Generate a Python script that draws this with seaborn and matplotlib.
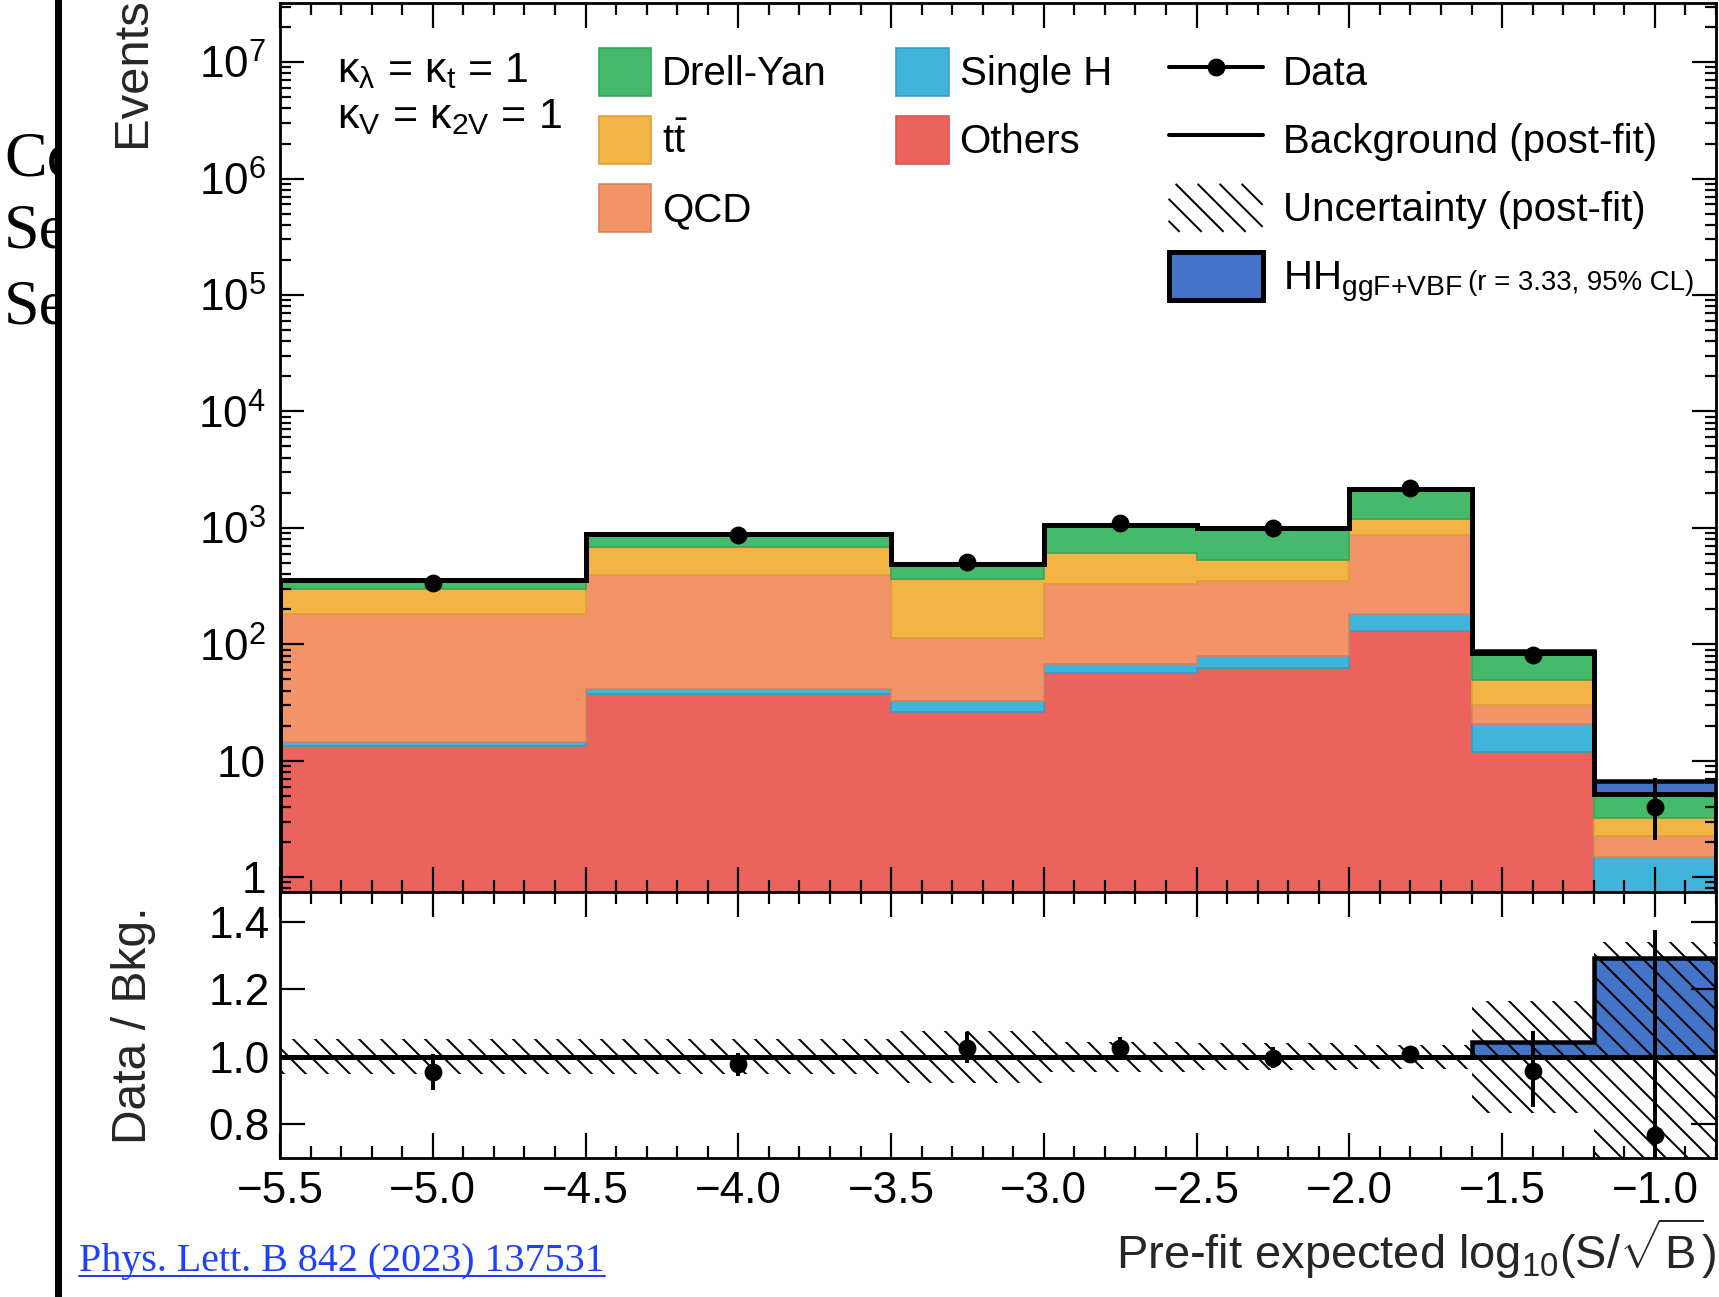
import numpy as np
import pandas as pd
import matplotlib
matplotlib.use("Agg")
import matplotlib.pyplot as plt
import seaborn as sns
from matplotlib.lines import Line2D
from matplotlib.patches import Patch
from matplotlib.collections import LineCollection
from matplotlib.legend_handler import HandlerBase
from matplotlib.colors import to_rgba
from matplotlib.ticker import (LogLocator, FixedLocator, FuncFormatter,
                               MultipleLocator, NullLocator, NullFormatter)
from matplotlib.transforms import Bbox, TransformedBbox

# ---------------------------------------------------------------- data
# Bin edges in pre-fit expected log10(S/sqrt(B))
bin_edges = [-5.5, -4.5, -3.5, -3.0, -2.5, -2.0, -1.6, -1.2, -0.8]

# Post-fit background yields per bin
others = [13.4, 37.3, 26.0, 56.4, 62.7, 131.0, 11.8, 0.0]
single_h = [1.1, 3.6, 6.3, 11.4, 16.2, 51.0, 8.8, 1.48]
qcd = [166.5, 352.0, 81.7, 261.0, 272.0, 689.0, 9.3, 0.77]
ttbar = [119.0, 294.0, 247.0, 274.0, 181.0, 316.0, 19.2, 0.94]
drell_yan = [54.0, 202.0, 130.0, 458.0, 474.0, 987.0, 35.4, 2.01]

# HH signal scaled to the 95% CL upper limit (r = 3.33)
hh_signal = [0.0, 0.0, 0.0, 0.0, 0.0, 0.0, 3.8, 1.53]

# Observed events with Poisson intervals
data_counts = [338, 869, 504, 1090, 1003, 2190, 81, 4]
data_err_lo = [18.4, 29.5, 22.4, 33.0, 31.7, 46.8, 9.0, 1.93]
data_err_hi = [19.4, 30.5, 23.4, 34.0, 32.7, 47.8, 10.0, 3.16]

# Relative post-fit background uncertainty
bkg_rel_unc = [0.052, 0.052, 0.078, 0.045, 0.040, 0.035, 0.167, 0.340]

process_names = ["Drell-Yan", r"$\mathregular{t\bar{t}}$", "QCD", "Single H", "Others"]
process_yields = [drell_yan, ttbar, qcd, single_h, others]
fill_colors = ["#45BA6A", "#F3B443", "#F29467", "#41B4DB", "#EC635E"]
edge_colors = ["#3AA35C", "#DDA03A", "#DC8159", "#379FC4", "#D5534F"]
HH_COLOR = "#4474C8"
LINK_COLOR = "#1F3FFF"

# ---------------------------------------------------------------- style
DPI = 132
W, H = 1719, 1297
HATCH_STEP = 22.0   # pixels between hatch lines
HATCH_LW = 2.0      # pixels


def pt(pixels):
    """Convert a size in output pixels to points."""
    return pixels * 72.0 / DPI


class HatchHandler(HandlerBase):
    """Legend key drawn as diagonal hatch lines."""

    def create_artists(self, legend, orig_handle, xdescent, ydescent,
                       width, height, fontsize, trans):
        x0, y0 = -xdescent, -ydescent
        step = pt(HATCH_STEP)
        segs = []
        c = 0.5 * step
        while c < width + height:
            xa, xb = max(0.0, c - height), min(width, c)
            if xb > xa:
                segs.append([(x0 + xa, y0 + c - xa), (x0 + xb, y0 + c - xb)])
            c += step
        lc = LineCollection(segs, colors="black", linewidths=pt(HATCH_LW),
                            transform=trans)
        return [lc]


sns.set_theme(style="ticks")
plt.rcParams["font.family"] = ["Liberation Sans", "DejaVu Sans"]
plt.rcParams["mathtext.fontset"] = "custom"
plt.rcParams["mathtext.rm"] = "Liberation Sans"
plt.rcParams["mathtext.it"] = "Liberation Sans:italic"
plt.rcParams["mathtext.bf"] = "Liberation Sans:bold"
plt.rcParams["axes.unicode_minus"] = True
plt.rcParams["text.color"] = "black"

fig = plt.figure(figsize=(W / DPI, H / DPI), dpi=DPI)
fig.patch.set_facecolor("white")

left_px, right_px = 280.0, 1716.0
top_px, mid_px, bot_px = 3.3, 891.7, 1158.0
left, right = left_px / W, right_px / W
top, mid, bot = 1 - top_px / H, 1 - mid_px / H, 1 - bot_px / H
ax = fig.add_axes([left, mid, right - left, top - mid])
axr = fig.add_axes([left, bot, right - left, mid - bot], sharex=ax)

edges = np.array(bin_edges)
centers = 0.5 * (edges[:-1] + edges[1:])
total = np.sum(np.array(process_yields), axis=0)
hh = np.array(hh_signal)
data = np.array(data_counts, dtype=float)
err_lo = np.array(data_err_lo)
err_hi = np.array(data_err_hi)
rel = np.array(bkg_rel_unc)

# ---------------------------------------------------------------- main panel
ax.set_yscale("log")
df = pd.DataFrame({
    "x": np.tile(centers, len(process_names)),
    "w": np.concatenate(process_yields),
    "process": np.repeat(process_names, len(centers)),
})
palette = dict(zip(process_names, fill_colors))
sns.histplot(data=df, x="x", weights="w", hue="process", hue_order=process_names,
             palette=palette, multiple="stack", element="step", fill=True,
             bins=bin_edges, alpha=1, linewidth=pt(1.6), legend=False, ax=ax)

# darker outline for each stacked process
fc_to_ec = {tuple(np.round(to_rgba(f), 3)): e for f, e in zip(fill_colors, edge_colors)}
for coll in ax.collections:
    fcs = coll.get_facecolor()
    if len(fcs):
        key = tuple(np.round(fcs[0], 3))
        if key in fc_to_ec:
            coll.set_edgecolor(fc_to_ec[key])
            coll.set_linewidth(pt(1.6))

ax.stairs(total + hh, edges, baseline=total, fill=True, facecolor=HH_COLOR,
          edgecolor="black", linewidth=pt(4.5), zorder=3)
ax.stairs(total, edges, color="black", linewidth=pt(5), zorder=4)
ax.errorbar(centers, data, yerr=[err_lo, err_hi], fmt="o", color="black",
            ms=pt(16), elinewidth=pt(4), capsize=0, zorder=6)

ax.set_xlim(-5.5, -0.8)
ax.set_ylim(0.75, 3.2e7)
ax.set_xlabel("")

# ---------------------------------------------------------------- ratio panel
unc_dn = np.append(1 - rel, 1 - rel[-1])
unc_up = np.append(1 + rel, 1 + rel[-1])
axr.stairs(1 + hh / total, edges, baseline=1.0, fill=True, facecolor=HH_COLOR,
           edgecolor="black", linewidth=pt(4.5), zorder=2)
band = axr.fill_between(edges, unc_dn, unc_up, step="post", facecolor="none",
                        edgecolor="none", linewidth=0, zorder=3)

# diagonal hatching of the uncertainty band
wa, ha = right_px - left_px, bot_px - mid_px
offsets = np.arange(-ha, wa + HATCH_STEP, HATCH_STEP)
hatch_segs = [[(o / wa, 1.0), ((o + ha) / wa, 0.0)] for o in offsets]
hatch = LineCollection(hatch_segs, colors="black", linewidths=pt(HATCH_LW),
                       transform=axr.transAxes, zorder=3)
axr.add_collection(hatch, autolim=False)
hatch.set_clip_path(band.get_paths()[0], axr.transData)

axr.axhline(1.0, color="black", linewidth=pt(5), zorder=4)
axr.errorbar(centers, data / total, yerr=[err_lo / total, err_hi / total], fmt="o",
             color="black", ms=pt(16), elinewidth=pt(4), capsize=0, zorder=6)
axr.set_ylim(0.7, 1.49)

# ---------------------------------------------------------------- axes styling
for a in (ax, axr):
    a.set_axisbelow(False)
    a.tick_params(which="both", direction="in", top=True, right=True,
                  bottom=True, left=True, width=pt(2.2), colors="black")
    a.tick_params(which="major", length=pt(25))
    a.tick_params(which="minor", length=pt(12))
    for s in a.spines.values():
        s.set_linewidth(pt(2.8))
        s.set_color("black")
    a.xaxis.set_major_locator(MultipleLocator(0.5))
    a.xaxis.set_minor_locator(MultipleLocator(0.1))

ax.tick_params(labelbottom=False)
ax.yaxis.set_major_locator(LogLocator(base=10, numticks=20))
ax.yaxis.set_minor_locator(LogLocator(base=10, subs=np.arange(2, 10), numticks=20))


def log_label(v, pos):
    n = int(round(np.log10(v)))
    if n == 0:
        return "1"
    if n == 1:
        return "10"
    return r"$\mathregular{10^{%d}}$" % n


ax.yaxis.set_major_formatter(FuncFormatter(log_label))
ax.yaxis.set_minor_formatter(NullFormatter())
ax.tick_params(axis="y", which="major", labelsize=pt(44), pad=pt(14), length=pt(24))
ax.tick_params(axis="y", which="minor", length=pt(11))

axr.yaxis.set_major_locator(FixedLocator([0.8, 1.0, 1.2, 1.4]))
axr.yaxis.set_minor_locator(NullLocator())
axr.yaxis.set_major_formatter(FuncFormatter(lambda v, p: f"{v:.1f}"))
axr.xaxis.set_major_formatter(FuncFormatter(lambda v, p: f"{v:.1f}".replace("-", "\u2212")))
axr.tick_params(axis="y", labelsize=pt(44), pad=pt(10))
axr.tick_params(axis="x", labelsize=pt(44), pad=pt(13))

ax.set_ylabel("Events", fontsize=pt(49), loc="top")
ax.yaxis.set_label_coords(-0.0940, 1.007)
ax.yaxis.label.set_va("baseline")

axr.set_ylabel("Data / Bkg.", fontsize=pt(48))
axr.yaxis.set_label_coords(-0.0933, 0.5)
axr.yaxis.label.set_va("baseline")

axr.set_xlabel(r"Pre-fit expected log$_{\mathregular{10}}$(S/$\sqrt{\mathregular{B}}$)",
               fontsize=pt(47), loc="right")
axr.xaxis.set_label_coords(1.0, -0.4187)
axr.xaxis.label.set_va("baseline")

# coupling annotation
ax.text(0.0397, 0.9114, r"κ$_{\mathregular{λ}}$ = κ$_{\mathregular{t}}$ = 1",
        transform=ax.transAxes, fontsize=pt(43), va="baseline", ha="left")
ax.text(0.0397, 0.8595, r"κ$_{\mathregular{V}}$ = κ$_{\mathregular{2V}}$ = 1",
        transform=ax.transAxes, fontsize=pt(43), va="baseline", ha="left")

# ---------------------------------------------------------------- legends
FS = 40.3
HANDLE_H = 1.455
ROW_SEP = 0.496
handles1 = [Patch(facecolor=f, edgecolor=e, linewidth=pt(1.6))
            for f, e in zip(fill_colors, edge_colors)]
leg1 = ax.legend(handles1, process_names, ncol=2, loc="upper left",
                 bbox_to_anchor=(0.2219, 0.9498), frameon=False, fontsize=pt(FS),
                 handlelength=52.6 / FS, handleheight=HANDLE_H,
                 handletextpad=11 / FS, labelspacing=ROW_SEP,
                 columnspacing=69 / FS, borderpad=0, borderaxespad=0)
ax.add_artist(leg1)

unc_handle = Patch(facecolor="none", edgecolor="none")
handles2 = [
    Line2D([], [], color="black", linewidth=pt(4), marker="o", ms=pt(16)),
    Line2D([], [], color="black", linewidth=pt(4)),
    unc_handle,
    Patch(facecolor=HH_COLOR, edgecolor="black", linewidth=pt(5)),
]
labels2 = ["Data", "Background (post-fit)", "Uncertainty (post-fit)",
           r"HH$_{\mathregular{ggF{+}VBF}}$"]
leg2 = ax.legend(handles2, labels2, loc="upper left",
                 bbox_to_anchor=(0.6188, 0.9498), frameon=False, fontsize=pt(FS),
                 handlelength=94 / FS, handleheight=HANDLE_H,
                 handletextpad=20 / FS, labelspacing=ROW_SEP,
                 borderpad=0, borderaxespad=0,
                 handler_map={unc_handle: HatchHandler()})

# ---------------------------------------------------------------- page decorations
fig.add_artist(Line2D([57.5 / W, 57.5 / W], [0, 1], transform=fig.transFigure,
                      color="black", linewidth=pt(7)))
clip = TransformedBbox(Bbox([[0, 0], [55.0 / W, 1]]), fig.transFigure)
for word, ybase in [("Co", 175), ("Se", 247), ("Se", 323)]:
    t = fig.text(4 / W, 1 - ybase / H, word, family=["Liberation Serif"],
                 fontsize=pt(64), va="baseline", ha="left")
    t.set_clip_box(clip)

link = fig.text(79 / W, 1 - 1270.7 / H, "Phys. Lett. B 842 (2023) 137531",
                family=["Liberation Serif"], fontsize=pt(40.0), color=LINK_COLOR,
                va="baseline", ha="left")

fig.canvas.draw()
renderer = fig.canvas.get_renderer()

bb = link.get_window_extent(renderer)
y_ul = 1 - 1276.0 / H
fig.add_artist(Line2D([bb.x0 / W, bb.x1 / W], [y_ul, y_ul], transform=fig.transFigure,
                      color=LINK_COLOR, linewidth=pt(2)))

hh_text = leg2.get_texts()[3]
hh_bb = hh_text.get_window_extent(renderer)
fig.text((hh_bb.x1 + 6) / W, (hh_bb.y0 + 13.5) / H, "(r = 3.33, 95% CL)",
         fontsize=pt(27.7), va="baseline", ha="left")

fig.savefig("out.png", dpi=DPI, facecolor="white")
